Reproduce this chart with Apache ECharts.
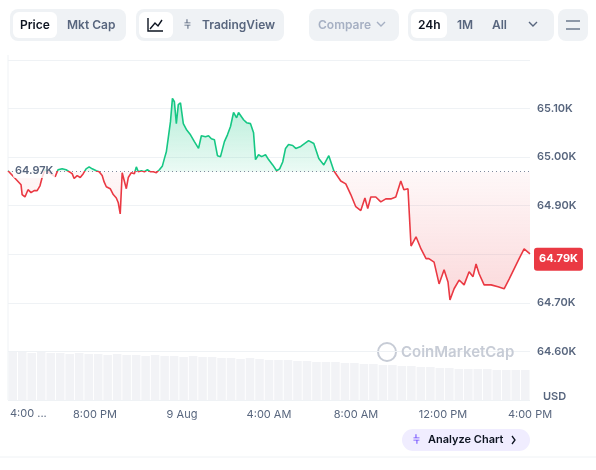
<!DOCTYPE html>
<html><head><meta charset="utf-8">
<script src="https://cdn.jsdelivr.net/npm/echarts@6/dist/echarts.min.js"></script>
<style>html,body{margin:0;padding:0;background:#fff}#c{width:596px;height:470px}</style>
</head><body><div id="c"></div>
<script>
// hours since 4:00 PM (8 Aug)
const hours = [0,0.6,0.65,0.78,0.92,1.06,1.2,1.34,1.47,1.57,1.7,2.17,2.3,2.49,2.67,2.76,2.95,3.04,3.18,3.32,3.46,3.59,3.73,3.87,4.06,4.19,4.33,4.42,4.52,4.7,4.84,4.98,5.07,5.16,5.25,5.44,5.53,5.67,5.81,5.9,5.99,6.13,6.27,6.41,6.54,6.68,6.82,6.96,7.1,7.19,7.28,7.37,7.47,7.56,7.65,7.74,7.83,7.93,8.06,8.2,8.39,8.57,8.76,8.89,9.08,9.22,9.35,9.49,9.63,9.77,9.95,10.09,10.23,10.37,10.51,10.6,10.69,10.83,10.97,11.15,11.29,11.38,11.52,11.66,11.84,11.98,12.17,12.35,12.49,12.63,12.76,12.9,13.09,13.23,13.46,13.82,14.06,14.29,14.52,14.75,14.98,15.3,15.53,15.76,15.99,16.22,16.41,16.54,16.68,16.91,17.14,17.37,17.6,17.83,18.06,18.2,18.39,18.53,18.76,18.99,19.22,19.35,19.59,19.82,20.05,20.23,20.32,20.51,20.74,20.97,21.2,21.38,21.52,21.66,21.89,22.21,22.53,22.81,23.04,23.27,23.5,23.73,24];
// price in thousands USD
const prices = [64.972,64.943,64.923,64.918,64.933,64.927,64.931,64.931,64.941,64.958,64.974,64.960,64.974,64.976,64.974,64.978,64.966,64.956,64.962,64.958,64.966,64.976,64.980,64.976,64.972,64.970,64.962,64.949,64.939,64.935,64.923,64.916,64.906,64.883,64.968,64.935,64.958,64.968,64.966,64.980,64.970,64.972,64.970,64.974,64.970,64.970,64.968,64.974,64.982,64.997,65.011,65.040,65.073,65.121,65.114,65.069,65.108,65.112,65.069,65.057,65.046,65.032,65.018,65.044,65.042,65.044,65.038,65.036,65.003,65.001,65.032,65.046,65.063,65.092,65.081,65.092,65.094,65.077,65.071,65.069,65.050,64.995,65.005,65.001,65.005,64.995,64.984,64.972,64.976,64.990,65.018,65.026,65.024,65.018,65.022,65.034,65.028,64.997,64.984,65.003,64.972,64.951,64.945,64.923,64.898,64.890,64.916,64.894,64.918,64.918,64.908,64.914,64.914,64.918,64.951,64.933,64.935,64.817,64.836,64.811,64.791,64.791,64.784,64.739,64.768,64.743,64.706,64.729,64.747,64.737,64.764,64.754,64.780,64.760,64.737,64.737,64.733,64.729,64.749,64.770,64.791,64.811,64.801];
const baseline = 64.97;
const lastPrice = 64.79;
const yTicks = [64.6,64.7,64.8,64.9,65.0,65.1];
const xTickHours = [4,8,12,16,20,24];
const xTickLabels = ['8:00 PM','9 Aug','4:00 AM','8:00 AM','12:00 PM','4:00 PM'];
const volumes = [48,48,47,48,47,47,46,47,46,46,45,46,45,45,44,45,44,44,43,44,43,43,42,42,41,42,41,40,40,40,39,39,38,38,38,37,37,36,36,35,35,34,34,33,33,32,32,31,31,31,31,30,30,30,30];

const line = hours.map((h,i)=>[h,prices[i]]);
const up = hours.map((h,i)=>[h,Math.max(prices[i],baseline)]);
const dn = hours.map((h,i)=>[h,Math.min(prices[i],baseline)]);
const pMax = Math.max(...prices), pMin = Math.min(...prices);
const split = (pMax-baseline)/(pMax-pMin);
const lineGrad = new echarts.graphic.LinearGradient(0,0,0,1,[
  {offset:0,color:'#16c784'},{offset:split,color:'#16c784'},{offset:split,color:'#ea3943'},{offset:1,color:'#ea3943'}]);
const chart = echarts.init(document.getElementById('c'));
const font = 'Inter, "Noto Sans", sans-serif';
const gray = '#58667e';
function btn(x,y,w,h,fill,r){return {type:'rect',z:100,shape:{x,y,width:w,height:h,r:r||6},style:{fill}};}
function txt(x,y,t,opt){return {type:'text',z:101,x,y,style:Object.assign({text:t,font:'600 12px '+font,fill:'#0d1421',textVerticalAlign:'middle'},opt||{})};}
chart.setOption({
  animation:false,
  grid:[{left:8,right:66,top:60,bottom:70},{left:8,right:66,top:352,bottom:70}],
  xAxis:[
    {type:'value',min:0,max:24,interval:4,gridIndex:0,axisLine:{show:false},axisTick:{show:false},splitLine:{show:false},
     axisLabel:{color:gray,fontFamily:font,fontSize:11,margin:9,formatter:v=>{const i=xTickHours.indexOf(v);return i>=0?xTickLabels[i]:'';}}},
    {type:'category',gridIndex:1,data:volumes.map((v,i)=>i),show:false}
  ],
  yAxis:[
    {type:'value',min:64.5,max:65.2,interval:0.1,position:'right',gridIndex:0,axisLine:{show:false},axisTick:{show:false},
     splitLine:{lineStyle:{color:'#eff2f5'}},
     axisLabel:{color:gray,fontFamily:font,fontSize:11,fontWeight:600,margin:7,formatter:v=>{const r=Math.round(v*10)/10;return yTicks.some(t=>Math.abs(t-r)<1e-6)&&r!==64.8?r.toFixed(2)+'K':'';}}},
    {type:'value',gridIndex:1,min:0,max:48,show:false}
  ],
  series:[
    {type:'bar',xAxisIndex:1,yAxisIndex:1,data:volumes,barCategoryGap:'10%',itemStyle:{color:'#f2f3f6'},silent:true},
    {type:'line',data:up,symbol:'none',lineStyle:{width:0},silent:true,
     areaStyle:{origin:baseline,color:new echarts.graphic.LinearGradient(0,0,0,1,[{offset:0,color:'rgba(22,199,132,0.45)'},{offset:1,color:'rgba(22,199,132,0.12)'}])},
     markLine:{symbol:'none',silent:true,data:[
       {yAxis:baseline,lineStyle:{color:'#808a9d',type:[1,3],width:1},label:{show:false}},
       {yAxis:lastPrice,lineStyle:{color:'rgba(0,0,0,0)',width:1},label:{show:true,position:'end',distance:4,formatter:lastPrice.toFixed(2)+'K',backgroundColor:'#ea3943',color:'#fff',fontWeight:700,fontSize:11,fontFamily:font,padding:[6,5],borderRadius:3}}
     ]}},
    {type:'line',data:dn,symbol:'none',lineStyle:{width:0},silent:true,
     areaStyle:{origin:baseline,color:new echarts.graphic.LinearGradient(0,0,0,1,[{offset:0,color:'rgba(234,57,67,0.05)'},{offset:1,color:'rgba(234,57,67,0.28)'}])}},
    {type:'line',data:line,symbol:'none',lineStyle:{width:1.6,color:lineGrad},z:5}
  ],
  graphic:[
    btn(10,9,116,32,'#eff2f5',8), btn(13,12,44,26,'#fff',6), txt(20,25,'Price'), txt(67,25,'Mkt Cap',{fill:'#58667e'}),
    btn(136,9,148,32,'#eff2f5',8), btn(139,12,34,26,'#fff',6),
    {type:'polyline',z:101,shape:{points:[[148,18],[148,31],[163,31]]},style:{stroke:'#0d1421',lineWidth:1.4,fill:null}},
    {type:'polyline',z:101,shape:{points:[[150,29],[155,23],[158,26],[162,20]]},style:{stroke:'#0d1421',lineWidth:1.4,fill:null}},
    txt(184,25,'⫩',{fill:'#58667e',font:'12px '+font}), txt(202,25,'TradingView',{fill:'#58667e'}),
    btn(309,9,90,32,'#eff2f5',8), txt(318,25,'Compare',{fill:'#a6b0c3'}),
    {type:'polyline',z:101,shape:{points:[[377,22],[381,26],[385,22]]},style:{stroke:'#a6b0c3',lineWidth:1.4,fill:null}},
    btn(408,9,146,32,'#eff2f5',8), btn(411,12,36,26,'#fff',6), txt(418,25,'24h'), txt(457,25,'1M',{fill:'#58667e'}), txt(492,25,'All',{fill:'#58667e'}),
    {type:'polyline',z:101,shape:{points:[[529,22],[533,26],[537,22]]},style:{stroke:'#58667e',lineWidth:1.4,fill:null}},
    btn(558,9,30,32,'#eff2f5',8),
    {type:'line',z:101,shape:{x1:566,y1:21,x2:580,y2:21},style:{stroke:'#58667e',lineWidth:1.3}},
    {type:'line',z:101,shape:{x1:566,y1:29,x2:580,y2:29},style:{stroke:'#58667e',lineWidth:1.3}},
    {type:'line',shape:{x1:8,y1:55,x2:8,y2:400},style:{stroke:'#eff2f5',lineWidth:1}},
    {type:'line',shape:{x1:0,y1:457,x2:596,y2:457},style:{stroke:'#eff2f5',lineWidth:1}},
    btn(13,162,42,16,'rgba(255,255,255,0.8)',2),
    txt(15,171,'64.97K',{fill:'#58667e',font:'600 11px '+font}),
    txt(10,414,'4:00 ...',{fill:gray,font:'11px '+font}),
    txt(543,397,'USD',{fill:gray,font:'600 11px '+font}),
    {type:'circle',shape:{cx:387,cy:352,r:9},style:{fill:null,stroke:'#c7ccd6',lineWidth:2}},
    txt(401,352,'CoinMarketCap',{fill:'#c7ccd6',font:'600 15px '+font}),
    btn(402,429,128,22,'#f0edff',11), txt(413,440,'⫩',{fill:'#6f4cff',font:'12px '+font}),
    txt(428,440,'Analyze Chart',{fill:'#0d1421',font:'600 11px '+font}),
    {type:'polyline',z:101,shape:{points:[[512,436],[515,440],[512,444]]},style:{stroke:'#0d1421',lineWidth:1.3,fill:null}}
  ]
});
</script></body></html>
